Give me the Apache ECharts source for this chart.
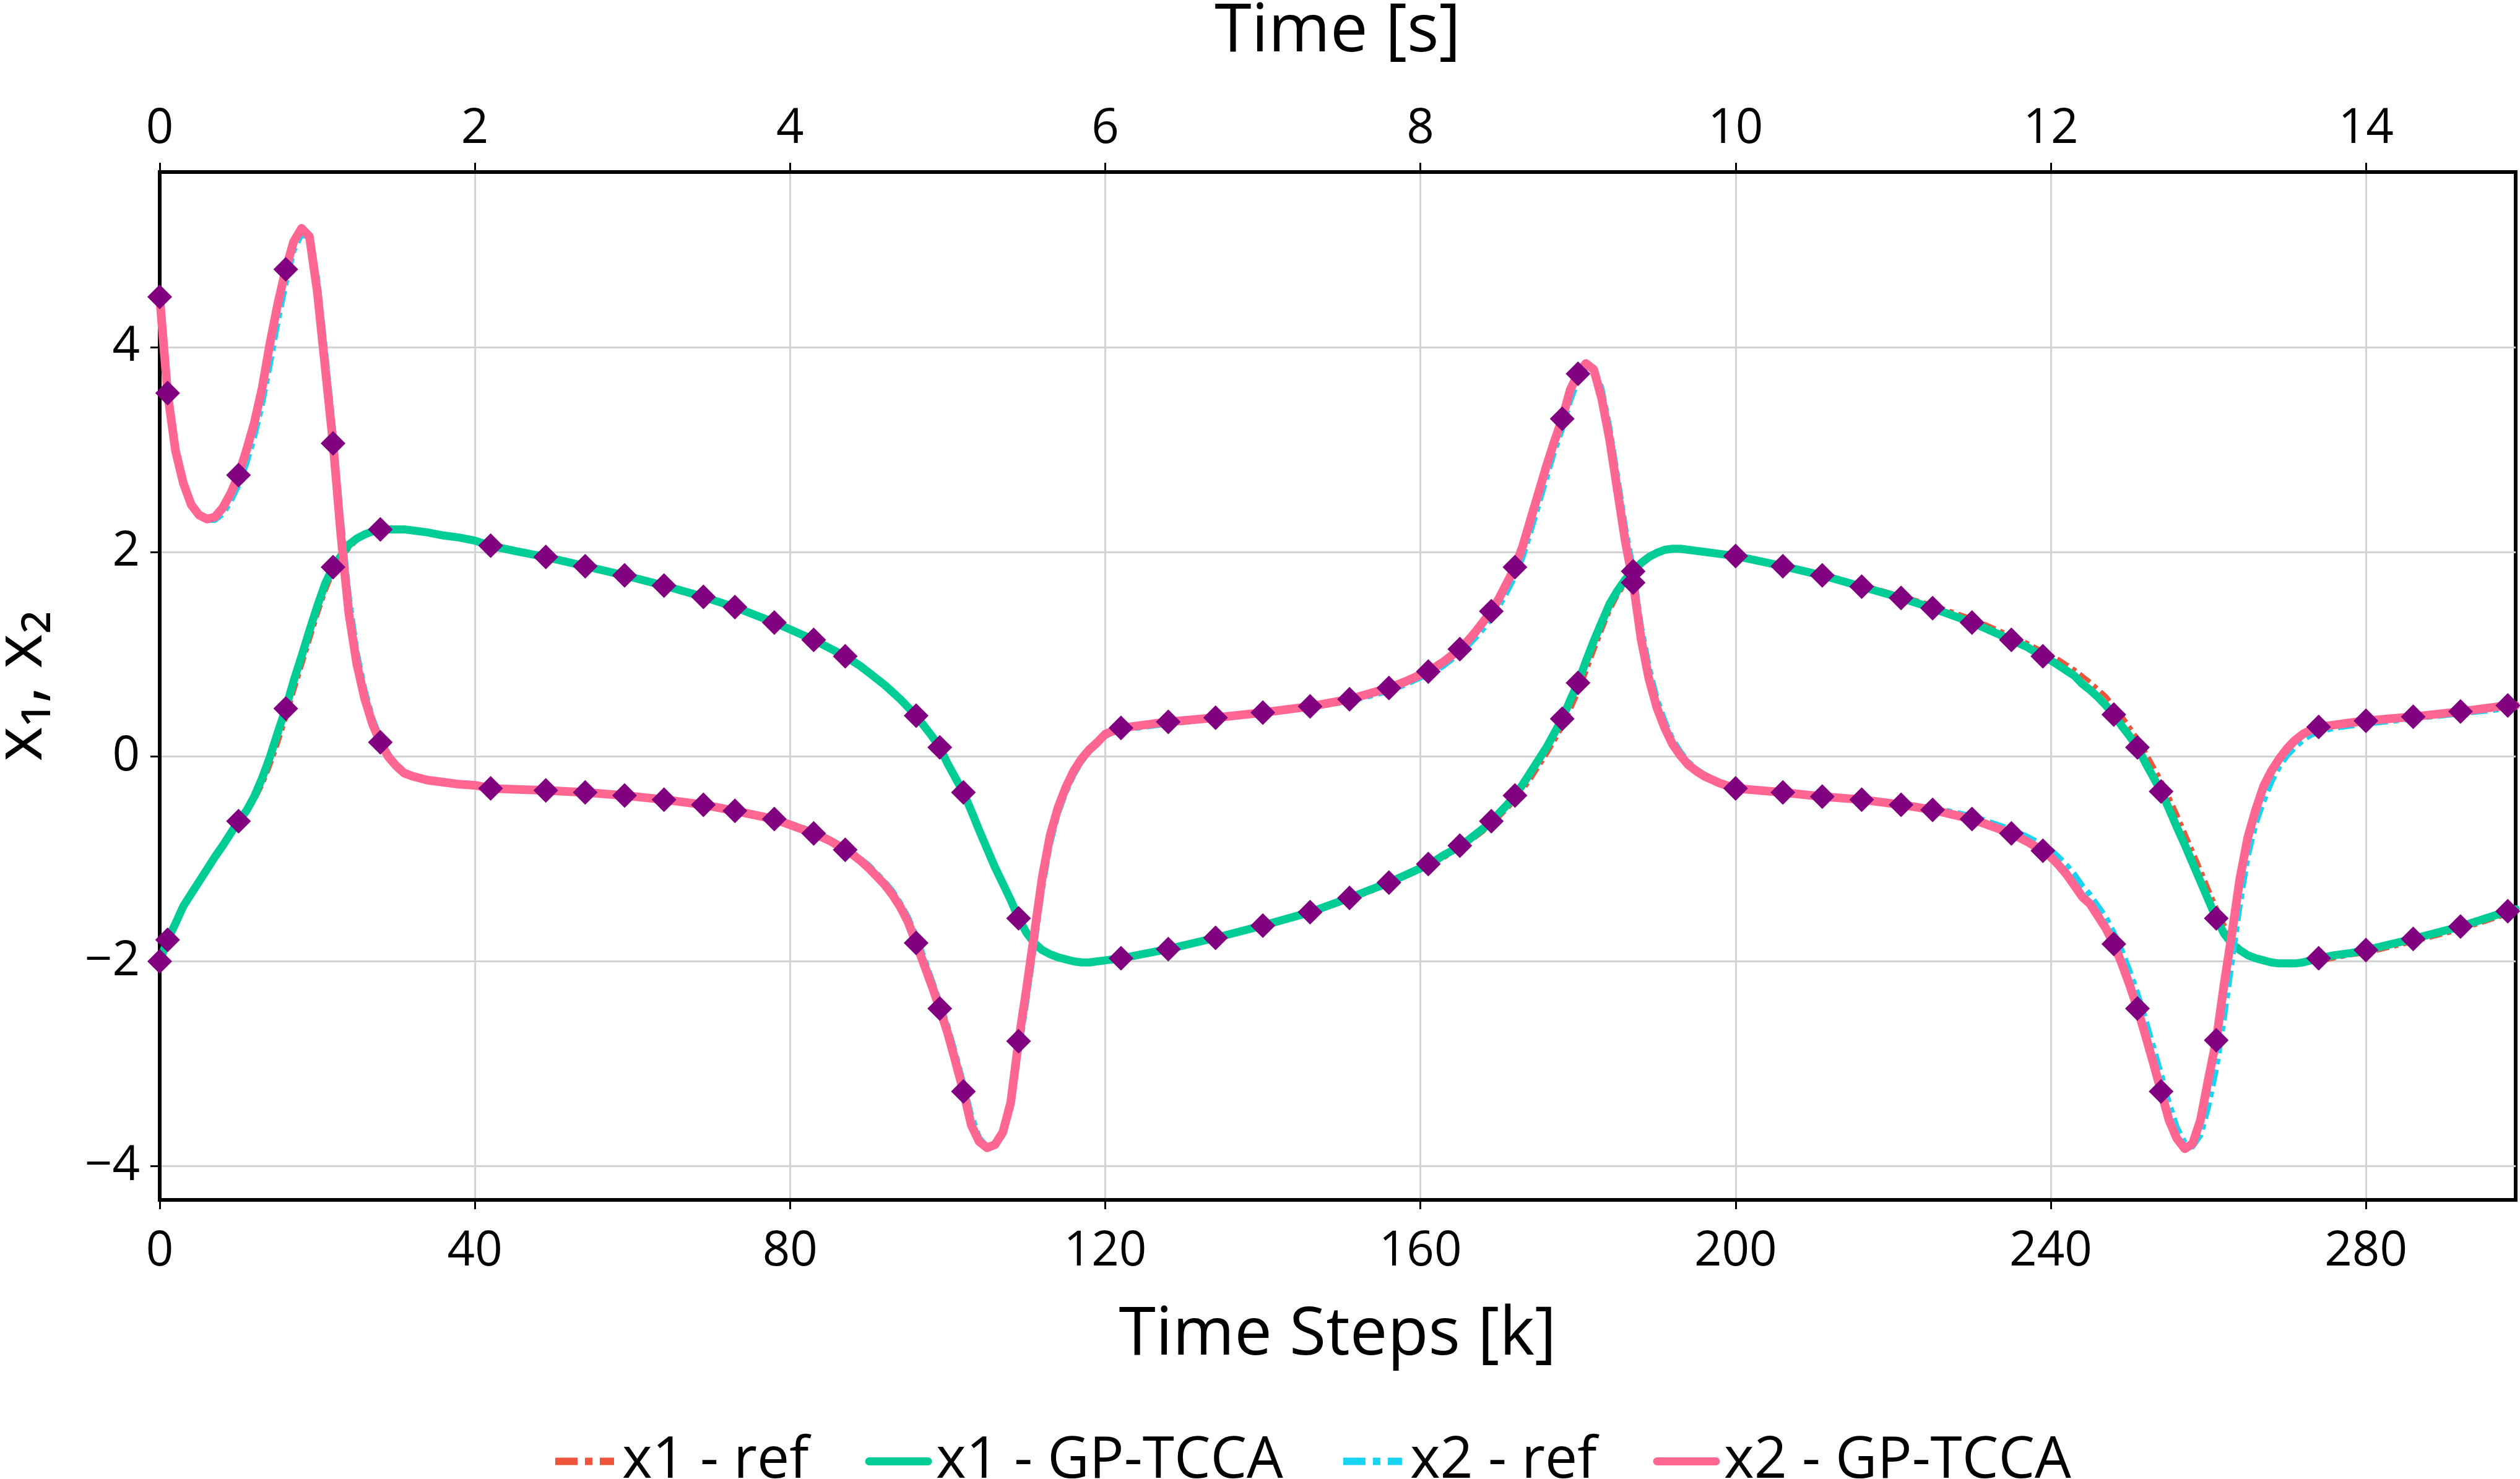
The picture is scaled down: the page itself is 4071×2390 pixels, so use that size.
<!DOCTYPE html>
<html>
<head>
<meta charset="utf-8">
<script src="https://cdn.jsdelivr.net/npm/echarts@6/dist/echarts.min.js"></script>
<style>
html,body{margin:0;padding:0;background:#fff;}
#chart{width:4071px;height:2390px;}
</style>
</head>
<body>
<div id="chart"></div>
<script>
// ---- data ----
const steps = [
0,1,2,3,4,5,6,7,8,9,
10,11,12,13,14,15,16,17,18,19,
20,21,22,23,24,25,26,27,28,29,
30,31,32,34,36,38,40,42,45,49,
54,59,64,69,73,78,83,85,87,88,
89,90,91,92,93,94,95,96,97,98,
99,100,101,102,103,104,105,106,107,108,
109,110,111,112,113,114,115,116,117,118,
119,120,122,128,134,140,146,151,156,158,
160,161,162,163,164,165,166,167,168,169,
170,171,172,173,174,175,176,177,178,179,
180,181,182,183,184,185,186,187,188,189,
190,191,192,193,194,195,196,198,200,206,
211,216,221,225,230,235,237,239,240,241,
242,243,244,245,246,247,248,249,250,251,
252,253,254,255,256,257,258,259,260,261,
262,263,264,265,266,267,268,269,270,271,
272,273,274,276,278,280,286,292,298,299
];

const x1Ref = [
-2.00,-1.80,-1.64,-1.47,-1.35,-1.23,-1.11,-0.99,-0.88,-0.77,
-0.65,-0.55,-0.43,-0.28,-0.09,0.13,0.37,0.63,0.88,1.13,
1.38,1.61,1.80,1.93,2.03,2.11,2.16,2.19,2.21,2.22,
2.22,2.22,2.21,2.19,2.16,2.13,2.10,2.06,2.01,1.95,
1.86,1.77,1.67,1.56,1.46,1.31,1.14,1.06,0.98,0.93,
0.88,0.82,0.76,0.70,0.63,0.56,0.48,0.40,0.31,0.21,
0.10,-0.05,-0.19,-0.33,-0.50,-0.69,-0.87,-1.05,-1.22,-1.38,
-1.55,-1.70,-1.81,-1.88,-1.93,-1.96,-1.98,-2.00,-2.01,-2.01,
-2.00,-1.99,-1.97,-1.88,-1.78,-1.66,-1.53,-1.40,-1.25,-1.18,
-1.11,-1.07,-1.03,-0.99,-0.94,-0.89,-0.84,-0.79,-0.73,-0.66,
-0.59,-0.51,-0.43,-0.33,-0.22,-0.10,0.02,0.15,0.29,0.45,
0.62,0.82,1.03,1.23,1.42,1.57,1.69,1.78,1.87,1.93,
1.98,2.01,2.03,2.03,2.03,2.02,2.01,1.99,1.97,1.87,
1.78,1.68,1.57,1.48,1.35,1.18,1.11,1.03,0.99,0.95,
0.90,0.85,0.79,0.73,0.66,0.59,0.50,0.40,0.29,0.18,
0.05,-0.09,-0.23,-0.39,-0.56,-0.74,-0.92,-1.10,-1.29,-1.47,
-1.64,-1.78,-1.87,-1.93,-1.97,-2.00,-2.02,-2.03,-2.03,-2.03,
-2.02,-2.01,-2.00,-1.97,-1.94,-1.92,-1.81,-1.69,-1.54,-1.52
];

const x1Gp = [
-2.00,-1.79,-1.63,-1.46,-1.34,-1.22,-1.10,-0.98,-0.87,-0.75,
-0.63,-0.53,-0.39,-0.21,0.00,0.24,0.47,0.74,0.98,1.23,
1.47,1.69,1.85,1.96,2.07,2.13,2.17,2.20,2.22,2.22,
2.22,2.22,2.21,2.19,2.16,2.14,2.11,2.06,2.01,1.95,
1.86,1.77,1.67,1.56,1.46,1.31,1.14,1.06,0.98,0.93,
0.88,0.82,0.76,0.70,0.63,0.56,0.48,0.40,0.30,0.20,
0.09,-0.07,-0.21,-0.35,-0.53,-0.72,-0.90,-1.08,-1.24,-1.40,
-1.58,-1.72,-1.82,-1.89,-1.93,-1.96,-1.98,-2.00,-2.01,-2.01,
-2.00,-1.99,-1.97,-1.88,-1.77,-1.65,-1.52,-1.38,-1.23,-1.16,
-1.09,-1.05,-1.01,-0.96,-0.92,-0.87,-0.82,-0.76,-0.70,-0.63,
-0.55,-0.47,-0.38,-0.27,-0.15,-0.03,0.09,0.23,0.37,0.55,
0.72,0.93,1.13,1.31,1.49,1.62,1.73,1.81,1.89,1.95,
1.99,2.02,2.03,2.03,2.02,2.01,2.00,1.98,1.96,1.86,
1.77,1.66,1.55,1.45,1.31,1.14,1.07,0.98,0.94,0.89,
0.84,0.79,0.71,0.65,0.58,0.50,0.41,0.30,0.20,0.09,
-0.06,-0.20,-0.34,-0.51,-0.69,-0.86,-1.04,-1.22,-1.40,-1.58,
-1.73,-1.83,-1.89,-1.94,-1.97,-1.99,-2.01,-2.02,-2.02,-2.02,
-2.01,-1.99,-1.97,-1.94,-1.92,-1.89,-1.78,-1.66,-1.51,-1.49
];

const x2Ref = [
4.49,3.55,3.00,2.68,2.46,2.35,2.31,2.31,2.37,2.49,
2.65,2.86,3.12,3.44,3.83,4.25,4.62,4.94,5.10,5.07,
4.68,3.98,3.22,2.35,1.58,1.03,0.66,0.38,0.18,0.03,
-0.07,-0.14,-0.18,-0.22,-0.25,-0.27,-0.28,-0.30,-0.32,-0.33,
-0.35,-0.37,-0.41,-0.46,-0.52,-0.60,-0.73,-0.80,-0.89,-0.94,
-1.00,-1.06,-1.14,-1.22,-1.31,-1.43,-1.57,-1.75,-1.96,-2.18,
-2.40,-2.63,-2.90,-3.19,-3.50,-3.72,-3.81,-3.80,-3.70,-3.45,
-2.90,-2.40,-1.86,-1.30,-0.86,-0.56,-0.35,-0.18,-0.05,0.05,
0.12,0.20,0.26,0.32,0.37,0.42,0.48,0.54,0.64,0.70,
0.77,0.80,0.84,0.89,0.95,1.01,1.08,1.16,1.25,1.35,
1.47,1.61,1.76,1.95,2.20,2.46,2.72,2.98,3.20,3.47,
3.68,3.80,3.80,3.60,3.22,2.74,2.24,1.83,1.28,0.88,
0.57,0.35,0.17,0.05,-0.05,-0.12,-0.17,-0.25,-0.30,-0.35,
-0.38,-0.41,-0.46,-0.50,-0.58,-0.71,-0.78,-0.86,-0.91,-0.98,
-1.06,-1.15,-1.26,-1.35,-1.46,-1.57,-1.72,-1.89,-2.09,-2.31,
-2.56,-2.83,-3.10,-3.38,-3.62,-3.77,-3.81,-3.70,-3.42,-3.05,
-2.55,-2.00,-1.45,-0.98,-0.66,-0.44,-0.25,-0.10,0.01,0.09,
0.16,0.21,0.24,0.28,0.30,0.32,0.37,0.42,0.47,0.48
];

const x2Gp = [
4.49,3.55,2.99,2.67,2.46,2.36,2.32,2.34,2.43,2.57,
2.75,2.99,3.26,3.60,4.04,4.43,4.76,5.03,5.16,5.08,
4.54,3.80,3.06,2.16,1.40,0.91,0.57,0.32,0.14,0.00,
-0.09,-0.16,-0.19,-0.23,-0.25,-0.27,-0.28,-0.31,-0.32,-0.33,
-0.35,-0.38,-0.42,-0.47,-0.53,-0.61,-0.75,-0.82,-0.91,-0.96,
-1.02,-1.09,-1.17,-1.25,-1.35,-1.47,-1.62,-1.82,-2.03,-2.24,
-2.46,-2.70,-2.98,-3.27,-3.60,-3.76,-3.82,-3.79,-3.67,-3.38,
-2.78,-2.27,-1.73,-1.18,-0.77,-0.50,-0.30,-0.14,-0.02,0.07,
0.14,0.22,0.28,0.34,0.38,0.43,0.49,0.56,0.67,0.73,
0.80,0.83,0.88,0.93,0.99,1.05,1.13,1.22,1.32,1.42,
1.55,1.70,1.85,2.06,2.32,2.58,2.84,3.08,3.30,3.58,
3.74,3.84,3.78,3.50,3.10,2.60,2.10,1.70,1.15,0.76,
0.48,0.28,0.12,0.01,-0.08,-0.14,-0.19,-0.26,-0.31,-0.35,
-0.39,-0.42,-0.47,-0.52,-0.61,-0.75,-0.83,-0.92,-0.98,-1.06,
-1.15,-1.26,-1.37,-1.44,-1.56,-1.68,-1.83,-2.02,-2.23,-2.46,
-2.72,-2.99,-3.27,-3.55,-3.73,-3.83,-3.78,-3.55,-3.15,-2.77,
-2.22,-1.72,-1.19,-0.79,-0.52,-0.29,-0.14,-0.02,0.08,0.16,
0.22,0.26,0.29,0.31,0.33,0.35,0.39,0.44,0.50,0.50
];

// time steps at which the GP-TCCA result is marked
const markerSteps = [0,1,10,16,22,28,42,49,54,59,64,69,73,78,83,87,96,99,102,109,
122,128,134,140,146,151,156,161,165,169,172,178,180,187,
200,206,211,216,221,225,230,235,239,248,251,254,261,274,280,286,292,298];

const stepTicks = [0,40,80,120,160,200,240,280];
const timeTicks = [0,2,4,6,8,10,12,14];
const yTicks = [-4,-2,0,2,4];

// ---- build ----
const FONT = '"Open Sans", "DejaVu Sans", sans-serif';
const pairs = vals => steps.map((k, i) => [k, vals[i]]);
const markerData = [];
markerSteps.forEach(k => {
  const i = steps.indexOf(k);
  markerData.push([k, x1Gp[i]]);
  markerData.push([k, x2Gp[i]]);
});
const minusFmt = v => String(v).replace('-', '\u2212');

const chart = echarts.init(document.getElementById('chart'), null, {renderer: 'canvas'});
const option = {
  animation: false,
  backgroundColor: '#ffffff',
  textStyle: {fontFamily: FONT, color: '#000'},
  grid: {left: 258, right: 7, top: 278, bottom: 451, show: true, borderColor: '#000', borderWidth: 6,
         backgroundColor: 'transparent', containLabel: false, outerBoundsMode: 'none'},
  legend: {
    data: [
      {name: 'x1 - ref', lineStyle: {width: 12, type: [36, 12, 12, 12]}},
      {name: 'x1 - GP-TCCA', lineStyle: {width: 13}},
      {name: 'x2 - ref', lineStyle: {width: 12, type: [36, 12, 12, 12]}},
      {name: 'x2 - GP-TCCA', lineStyle: {width: 13}}
    ],
    orient: 'horizontal',
    left: 886,
    top: 2310,
    itemWidth: 95,
    itemHeight: 40,
    itemGap: 91,
    itemStyle: {opacity: 0},
    textStyle: {fontFamily: FONT, fontSize: 93, color: '#000', padding: [0, 0, 0, 8]}
  },
  xAxis: [
    {
      type: 'value', position: 'bottom', min: 0, max: 299, interval: 40,
      name: 'Time Steps [k]', nameLocation: 'middle', nameGap: 165,
      nameTextStyle: {fontFamily: FONT, fontSize: 108, color: '#000'},
      axisLine: {show: true, onZero: false, lineStyle: {color: '#000', width: 6}},
      axisTick: {show: true, length: 15, lineStyle: {color: '#000', width: 3}, customValues: stepTicks},
      axisLabel: {fontFamily: FONT, fontSize: 78, color: '#000', margin: 45, customValues: stepTicks},
      splitLine: {show: true, lineStyle: {color: '#d3d3d3', width: 3}}
    },
    {
      type: 'value', position: 'top', min: 0, max: 14.95, interval: 2,
      name: 'Time [s]', nameLocation: 'middle', nameGap: 172,
      nameTextStyle: {fontFamily: FONT, fontSize: 108, color: '#000'},
      axisLine: {show: true, onZero: false, lineStyle: {color: '#000', width: 6}},
      axisTick: {show: true, length: 15, lineStyle: {color: '#000', width: 3}, customValues: timeTicks},
      axisLabel: {fontFamily: FONT, fontSize: 78, color: '#000', margin: 30, customValues: timeTicks},
      splitLine: {show: false}
    }
  ],
  yAxis: {
    type: 'value', min: -4.33, max: 5.71, splitNumber: 5,
    name: 'x\u2081, x\u2082', nameLocation: 'middle', nameGap: 168,
    nameTextStyle: {fontFamily: FONT, fontSize: 108, color: '#000'},
    axisLine: {show: true, onZero: false, lineStyle: {color: '#000', width: 6}},
    axisTick: {show: true, length: 15, lineStyle: {color: '#000', width: 3}, customValues: yTicks},
    axisLabel: {fontFamily: FONT, fontSize: 78, color: '#000', margin: 32, customValues: yTicks, formatter: minusFmt},
    splitLine: {show: true, lineStyle: {color: '#d3d3d3', width: 3}}
  },
  series: [
    {
      name: 'x1 - ref', type: 'line', xAxisIndex: 0, data: pairs(x1Ref),
      symbol: 'none', color: '#EF553B', z: 2,
      lineStyle: {color: '#EF553B', width: 7, type: [21, 8, 7, 8], cap: 'butt', join: 'round'}
    },
    {
      name: 'x1 - GP-TCCA', type: 'line', xAxisIndex: 0, data: pairs(x1Gp),
      symbol: 'none', color: '#00CC96', z: 3,
      lineStyle: {color: '#00CC96', width: 13, cap: 'round', join: 'round'}
    },
    {
      name: 'x2 - ref', type: 'line', xAxisIndex: 0, data: pairs(x2Ref),
      symbol: 'none', color: '#19D3F3', z: 4,
      lineStyle: {color: '#19D3F3', width: 9, type: [27, 9, 9, 9], cap: 'butt', join: 'round'}
    },
    {
      name: 'x2 - GP-TCCA', type: 'line', xAxisIndex: 0, data: pairs(x2Gp),
      symbol: 'none', color: '#FF6692', z: 5,
      lineStyle: {color: '#FF6692', width: 14, cap: 'round', join: 'round'}
    },
    {
      name: 'markers', type: 'scatter', xAxisIndex: 0, data: markerData,
      symbol: 'diamond', symbolSize: [40, 40], z: 10,
      itemStyle: {color: '#800080', opacity: 1}
    }
  ]
};
chart.setOption(option);
</script>
</body>
</html>
